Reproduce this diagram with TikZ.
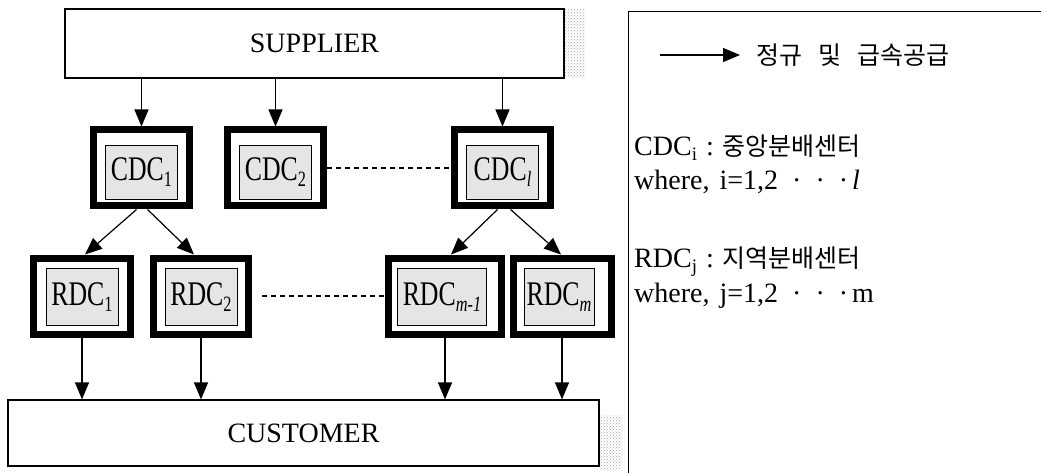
\documentclass[tikz,border=0pt]{standalone}
\usepackage{fontspec}
\setmainfont{Liberation Serif}
\newfontfamily\krfont{Noto Sans CJK KR}
\usetikzlibrary{arrows.meta,patterns}
\newcommand\mysub[1]{\raisebox{-0.18em}{\fontsize{19}{19}\selectfont #1}}
\newcommand\tallbox[1]{\scalebox{0.86}[1.15]{#1}}
\begin{document}
\begin{tikzpicture}[x=1pt,y=-1pt,
  outerbox/.style={draw, line width=7pt, fill=white, minimum height=76pt, inner sep=0pt},
  innerbox/.style={draw, line width=0.8pt, fill=gray!20, minimum height=54pt, inner sep=0pt, font=\fontsize{30}{32}\selectfont},
  bigbox/.style={draw, line width=1.2pt, fill=white, inner sep=0pt, font=\fontsize{28}{30}\selectfont},
  arr/.style={line width=1.2pt, -{Triangle[width=14pt,length=17pt]}},
  dashline/.style={line width=1.2pt, dash pattern=on 5pt off 4pt},
  shadow/.style={pattern=crosshatch dots, pattern color=gray!70},
  paneltext/.style={anchor=west, inner sep=0pt, font=\fontsize{28}{30}\selectfont},
  kortext/.style={font=\krfont\fontsize{25}{25}\selectfont},
]
\useasboundingbox (0,0) rectangle (1041,473);

% stippled shadows
\fill[shadow] (564,9) rectangle (585,78);
\fill[shadow] (600,415) rectangle (622,470);

% main boxes
\node[bigbox, minimum width=499pt, minimum height=69pt] (sup) at (314.5,43.5) {SUPPLIER};
\node[bigbox, minimum width=591pt, minimum height=66pt] (cus) at (303.5,433) {CUSTOMER};

% CDC boxes
\node[outerbox, minimum width=96pt] (cdc1) at (141.5,168) {};
\node[innerbox, minimum width=72pt] (cdc1in) at (141.5,172) {\tallbox{CDC\mysub{1}}};
\node[outerbox, minimum width=96pt] (cdc2) at (275.5,168) {};
\node[innerbox, minimum width=72pt] (cdc2in) at (275.5,172) {\tallbox{CDC\mysub{2}}};
\node[outerbox, minimum width=96pt] (cdcl) at (502.5,168) {};
\node[innerbox, minimum width=72pt] (cdclin) at (502.5,172) {\tallbox{CDC\mysub{\textit{l}}}};

% RDC boxes
\node[outerbox, minimum width=97pt] (rdc1) at (82,296) {};
\node[innerbox, minimum width=72pt, minimum height=57pt] (rdc1in) at (82,297) {\tallbox{RDC\mysub{1}}};
\node[outerbox, minimum width=95pt] (rdc2) at (201,296) {};
\node[innerbox, minimum width=72pt, minimum height=57pt] (rdc2in) at (201,297) {\tallbox{RDC\mysub{2}}};
\node[outerbox, minimum width=113pt] (rdcm1) at (445,296) {};
\node[innerbox, minimum width=89pt, minimum height=57pt] (rdcm1in) at (442,297) {\tallbox{RDC\mysub{\textit{m-1}}}};
\node[outerbox, minimum width=98pt] (rdcm) at (562,296) {};
\node[innerbox, minimum width=70pt, minimum height=57pt] (rdcmin) at (559,297) {\tallbox{RDC\mysub{\textit{m}}}};

% supplier -> CDC
\draw[arr] (cdc1.north |- sup.south) -- (cdc1.north);
\draw[arr] (cdc2.north |- sup.south) -- (cdc2.north);
\draw[arr] (cdcl.north |- sup.south) -- (cdcl.north);

% CDC -> RDC
\draw[arr] ([xshift=-5pt]cdc1.south) -- ([xshift=3pt]rdc1.north);
\draw[arr] ([xshift=6pt]cdc1.south) -- ([xshift=-7pt]rdc2.north);
\draw[arr] ([xshift=-5pt]cdcl.south) -- ([xshift=6pt]rdcm1.north);
\draw[arr] ([xshift=8pt]cdcl.south) -- ([xshift=-1pt]rdcm.north);

% RDC -> customer
\draw[arr] (rdc1.south) -- (rdc1.south |- cus.north);
\draw[arr] (rdc2.south) -- (rdc2.south |- cus.north);
\draw[arr] (rdcm1.south) -- (rdcm1.south |- cus.north);
\draw[arr] (rdcm.south) -- (rdcm.south |- cus.north);

% dashed links
\draw[dashline] (cdc2.east) -- (cdcl.west);
\draw[dashline] ([xshift=10pt]rdc2.east) -- (rdcm1.west);

% legend panel
\draw[line width=1pt] (628,473) -- (628,12) -- (1041,12);
\coordinate (la) at (660,55);
\coordinate (lb) at (740,55);
\draw[arr] (la) -- (lb);
\node[anchor=west, inner sep=0pt, kortext] (title) at (756,55) {정규\hspace{16pt}및\hspace{16pt}급속공급};
\node[paneltext] (cdci) at (634,148) {CDC\mysub{i}\hspace{9pt}:\hspace{9pt}{\krfont\fontsize{25}{25}\selectfont 중앙분배센터}};
\node[paneltext] (wherei) at (634,182) {where,\hspace{10pt}i=1,2\hspace{14pt}·\hspace{14pt}·\hspace{14pt}·\hspace{4pt}\textit{l}};
\node[paneltext] (rdcj) at (634,262) {RDC\mysub{j}\hspace{9pt}:\hspace{9pt}{\krfont\fontsize{25}{25}\selectfont 지역분배센터}};
\node[paneltext] (wherej) at (634,296) {where,\hspace{10pt}j=1,2\hspace{14pt}·\hspace{14pt}·\hspace{14pt}·\hspace{4pt}m};
\end{tikzpicture}
\end{document}
